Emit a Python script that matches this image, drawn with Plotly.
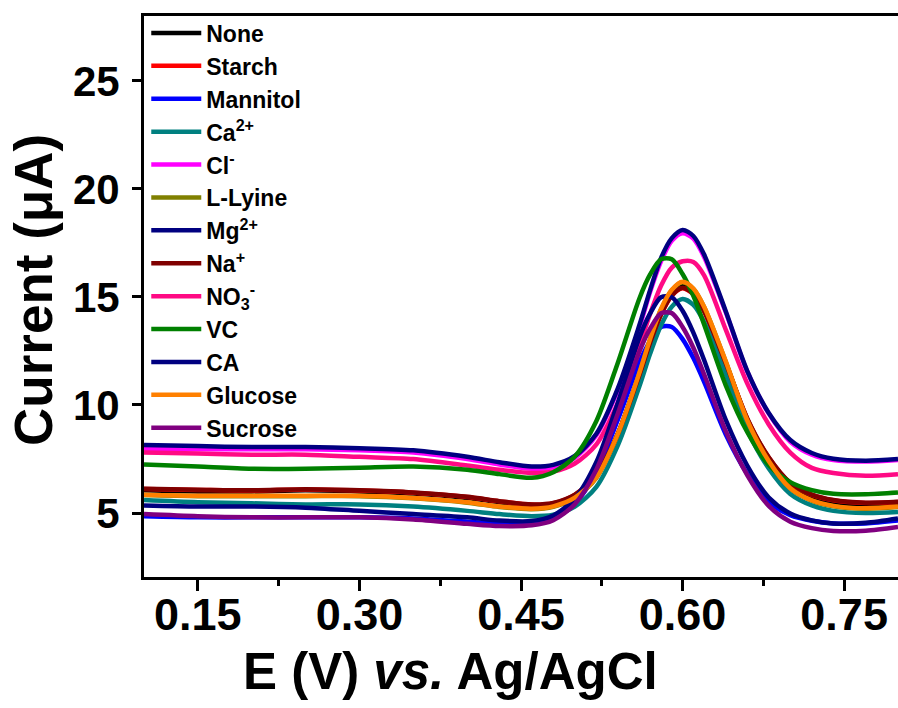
import plotly.graph_objects as go

# potential grid (V)
E = [0.10, 0.15, 0.20, 0.25, 0.30, 0.35, 0.40, 0.43, 0.46, 0.48, 0.50, 0.52, 0.54, 0.56,
     0.57, 0.58, 0.59, 0.60, 0.61, 0.62, 0.64, 0.66, 0.68, 0.70, 0.72, 0.74, 0.77, 0.80]

none_ = [6.05, 6.0, 6.0, 6.05, 6.0, 5.9, 5.7, 5.5, 5.35, 5.42, 5.81, 6.72, 8.65, 11.44,
         12.96, 14.28, 15.14, 15.50, 15.20, 14.38, 11.95, 9.31, 7.48, 6.26, 5.71, 5.45, 5.35, 5.42]
na = [6.12, 6.08, 6.05, 6.1, 6.05, 5.95, 5.75, 5.55, 5.4, 5.47, 5.85, 6.76, 8.68, 11.40,
      12.90, 14.20, 15.07, 15.42, 15.15, 14.35, 11.95, 9.38, 7.58, 6.40, 5.85, 5.60, 5.48, 5.52]
starch = [6.11, 6.07, 6.04, 6.09, 6.04, 5.94, 5.74, 5.54, 5.39, 5.46, 5.84, 6.75, 8.67, 11.39,
          12.89, 14.19, 15.06, 15.40, 15.13, 14.33, 11.93, 9.37, 7.57, 6.39, 5.84, 5.59, 5.47, 5.51]
mannitol = [4.85, 4.8, 4.8, 4.8, 4.8, 4.75, 4.6, 4.5, 4.52, 4.74, 5.42, 6.91, 9.33, 11.98,
            12.96, 13.61, 13.61, 13.05, 12.17, 11.07, 8.65, 6.82, 5.52, 4.90, 4.64, 4.52, 4.52, 4.65]
ca2 = [5.6, 5.5, 5.45, 5.4, 5.4, 5.3, 5.1, 4.95, 4.85, 4.92, 5.30, 6.21, 8.14, 10.88,
       12.39, 13.69, 14.55, 14.90, 14.63, 13.84, 11.43, 8.84, 7.06, 5.88, 5.35, 5.10, 5.0, 5.05]
cl = [7.95, 7.95, 7.95, 7.95, 7.9, 7.8, 7.5, 7.25, 7.05, 7.13, 7.55, 8.6, 10.7, 13.6,
      15.25, 16.65, 17.6, 17.95, 17.7, 16.85, 14.3, 11.55, 9.6, 8.3, 7.7, 7.45, 7.38, 7.45]
lys = [5.83, 5.78, 5.78, 5.78, 5.78, 5.68, 5.48, 5.28, 5.18, 5.29, 5.69, 6.63, 8.65, 11.48,
       13.06, 14.42, 15.31, 15.68, 15.37, 14.53, 12.01, 9.28, 7.39, 6.13, 5.57, 5.31, 5.20, 5.28]
mg = [8.15, 8.1, 8.05, 8.05, 8.0, 7.9, 7.6, 7.35, 7.15, 7.23, 7.64, 8.67, 10.78, 13.71,
      15.34, 16.80, 17.72, 18.10, 17.82, 16.96, 14.35, 11.58, 9.63, 8.38, 7.78, 7.51, 7.42, 7.5]
no3 = [7.8, 7.75, 7.7, 7.7, 7.6, 7.5, 7.2, 7.0, 6.85, 6.92, 7.29, 8.18, 10.10, 12.76,
       14.24, 15.52, 16.36, 16.65, 16.62, 16.0, 13.5, 11.0, 9.1, 7.8, 7.09, 6.85, 6.72, 6.8]
vc = [7.25, 7.15, 7.05, 7.05, 7.1, 7.15, 7.0, 6.8, 6.63, 6.89, 7.62, 9.26, 11.97, 14.94,
      16.05, 16.74, 16.74, 16.06, 15.05, 13.73, 10.92, 8.75, 7.22, 6.43, 6.06, 5.89, 5.87, 5.95]
ca = [5.35, 5.3, 5.3, 5.25, 5.1, 4.95, 4.8, 4.65, 4.63, 4.89, 5.67, 7.36, 10.12, 13.14,
      14.25, 14.99, 14.99, 14.36, 13.35, 12.08, 9.32, 7.20, 5.72, 4.98, 4.66, 4.52, 4.55, 4.75]
glucose = [5.85, 5.8, 5.8, 5.8, 5.8, 5.7, 5.5, 5.3, 5.2, 5.31, 5.71, 6.65, 8.67, 11.50,
           13.08, 14.44, 15.33, 15.70, 15.39, 14.55, 12.03, 9.30, 7.41, 6.15, 5.59, 5.33, 5.22, 5.3]
sucrose = [4.95, 4.85, 4.8, 4.8, 4.8, 4.7, 4.5, 4.4, 4.43, 4.67, 5.41, 7.01, 9.62, 12.48,
           13.54, 14.25, 14.25, 13.61, 12.65, 11.42, 8.80, 6.76, 5.33, 4.60, 4.30, 4.17, 4.18, 4.35]

names = ["None", "Starch", "Mannitol", "Ca<sup>2+</sup>", "Cl<sup>-</sup>", "L-Lyine",
         "Mg<sup>2+</sup>", "Na<sup>+</sup>", "NO<sub>3</sub><sup>-</sup>", "VC", "CA",
         "Glucose", "Sucrose"]
series = [none_, starch, mannitol, ca2, cl, lys, mg, na, no3, vc, ca, glucose, sucrose]
colors = ["#000000", "#FF0000", "#0000FF", "#008080", "#FF00FF", "#808000",
          "#000080", "#800000", "#FF0A84", "#008000", "#000080", "#FF8000", "#800080"]

x_ticks = [0.15, 0.30, 0.45, 0.60, 0.75]
x_ticklabels = ["0.15", "0.30", "0.45", "0.60", "0.75"]
y_ticks = [5, 10, 15, 20, 25]
x_title = "E (V) <i>vs.</i> Ag/AgCl"
y_title = "Current (μA)"

fig = go.Figure()
for i, (nm, ys, col) in enumerate(zip(names, series, colors)):
    fig.add_trace(go.Scatter(
        x=E, y=ys, name=nm, mode="lines", legendgroup=f"g{i}",
        line=dict(color=col, width=4.5, shape="spline", smoothing=0.8),
    ))

FAM = "Liberation Sans, Arial"

fig.update_layout(
    width=898, height=708,
    margin=dict(l=144, r=0, t=16, b=131),
    paper_bgcolor="white", plot_bgcolor="white",
    showlegend=True,
    legend=dict(
        x=0.003, y=1.008, xanchor="left", yanchor="top",
        bgcolor="rgba(0,0,0,0)", borderwidth=0,
        font=dict(family=FAM, size=23, color="black", weight="bold"),
        tracegroupgap=0, itemwidth=50, maxheight=700,
    ),
    xaxis=dict(
        range=[0.1, 0.8], tickmode="array", tickvals=x_ticks, ticktext=x_ticklabels,
        showline=True, linewidth=3, linecolor="black", mirror=True,
        ticks="outside", ticklen=11, tickwidth=3, tickcolor="black",
        minor=dict(tickmode="array", tickvals=[0.225, 0.375, 0.525, 0.675],
                   ticks="outside", ticklen=6, tickwidth=3, tickcolor="black"),
        showgrid=False, zeroline=False,
        tickfont=dict(family=FAM, size=45, color="black", weight="bold"),
        ticklabelstandoff=-15,
    ),
    yaxis=dict(
        range=[2.04, 28.0], tickmode="array", tickvals=y_ticks,
        showline=True, linewidth=3, linecolor="black", mirror=False,
        ticks="outside", ticklen=9, tickwidth=3, tickcolor="black",
        showgrid=False, zeroline=False,
        tickfont=dict(family=FAM, size=42, color="black", weight="bold"),
        ticklabelstandoff=4,
    ),
    annotations=[
        dict(text=x_title, xref="paper", yref="paper", x=(450 - 144) / 754,
             y=(577 - 671) / 561, xanchor="center", yanchor="middle", showarrow=False,
             font=dict(family=FAM, size=51, color="black", weight="bold")),
        dict(text=y_title, xref="paper", yref="paper", x=(33 - 144) / 754,
             y=(577 - 290) / 561, xanchor="center", yanchor="middle", showarrow=False,
             textangle=-90,
             font=dict(family=FAM, size=53, color="black", weight="bold")),
    ],
)

fig.write_html("out.html")
